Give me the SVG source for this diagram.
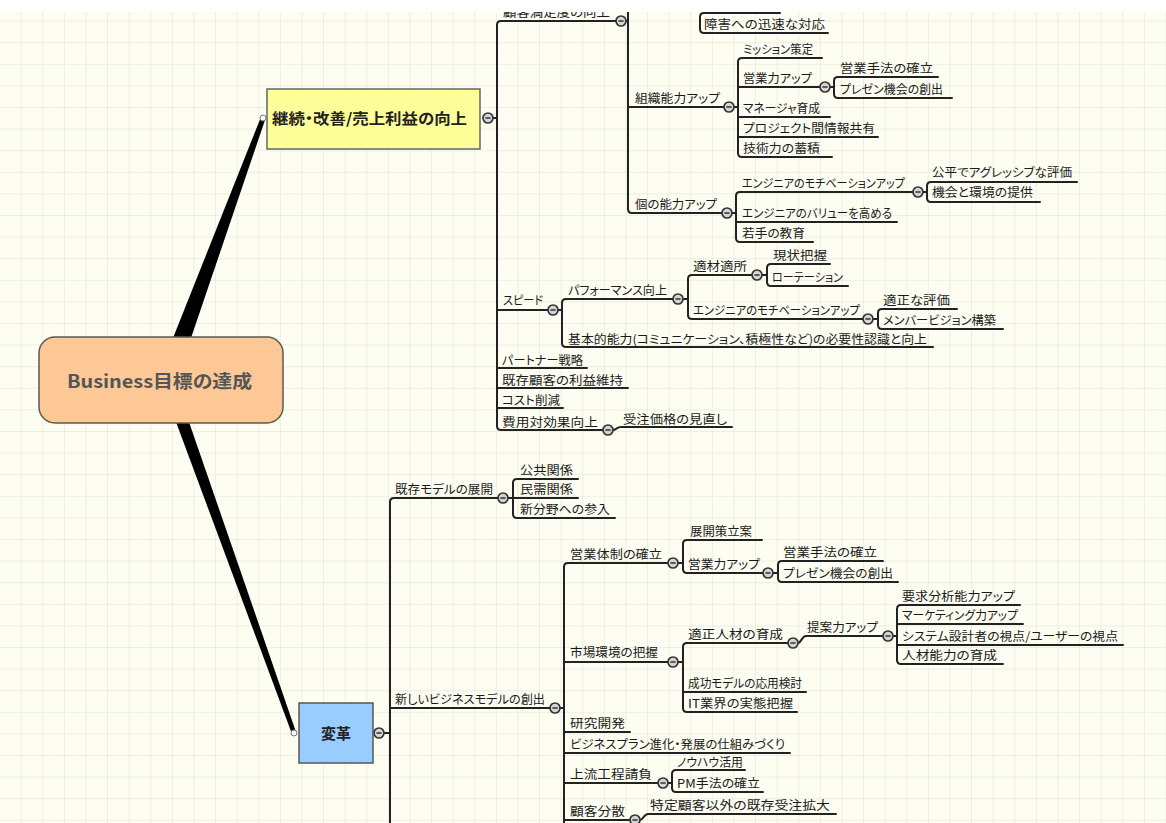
<svg xmlns="http://www.w3.org/2000/svg" width="1166" height="823" viewBox="0 0 1166 823">
  <defs>
    <pattern id="grid" x="0" y="0" width="21.6" height="21.6" patternUnits="userSpaceOnUse">
      <path d="M21.6 0 V21.6 M0 21.6 H21.6" fill="none" stroke="#dae3d4" stroke-width="1"/>
    </pattern>
    <symbol id="col" viewBox="-6 -6 12 12" overflow="visible">
      <circle r="5" fill="#d4d4d4" stroke="#333" stroke-width="1.7"/>
      <path d="M-2.6 0 H2.6" stroke="#333" stroke-width="1.5"/>
    </symbol>
  </defs>
  <style>
    .t{font-family:"Noto Sans CJK JP","Noto Sans",sans-serif;font-size:12px;fill:#1a1a1a;font-feature-settings:"palt"}
    .u{fill:none;stroke:#222;stroke-width:2;stroke-linecap:round;stroke-linejoin:round}
    .pin{fill:#fff;stroke:#777;stroke-width:1}
    .nt{font-family:"Noto Sans CJK JP","Noto Sans",sans-serif;font-weight:bold;fill:#222;font-feature-settings:"palt"}
  </style>

  <rect width="1166" height="823" fill="#fdfdf1"/>
  <rect width="1166" height="823" fill="url(#grid)"/>

  <!-- tapered main branches from the root -->
  <g id="main-branches" fill="#000">
    <path d="M173 338 L261 117 L265 120 L191 338 Z"/>
    <path d="M176 422 L292 734 L296 732 L189 422 Z"/>
  </g>

  <!-- connectors -->
  <g id="connectors" class="u">
    <!-- 継続・改善 trunk -->
    <path d="M493 118 H497 M497 25 V426"/>
    <path d="M497 25 Q497 21 501 21 H616"/>
    <path d="M497 310 H548"/>
    <path d="M497 368 H587"/>
    <path d="M497 388 H628"/>
    <path d="M497 408 H563"/>
    <path d="M497 426 Q497 430 501 430 H603"/>
    <!-- 顧客満足度の向上 -->
    <path d="M626 21 H628 M628 12 V209"/>
    <path d="M628 107 H724"/>
    <path d="M628 209 Q628 213 632 213 H722"/>
    <path d="M780 13 H704 Q700 13 700 17 V29 Q700 33 704 33 H828"/>
    <!-- 組織能力アップ -->
    <path d="M734 107 H738 M738 62 V153"/>
    <path d="M738 62 Q738 58 742 58 H822"/>
    <path d="M738 87 H820"/>
    <path d="M738 117 H830"/>
    <path d="M738 137 H878"/>
    <path d="M738 153 Q738 157 742 157 H832"/>
    <path d="M830 87 H834 M834 81 V94"/>
    <path d="M834 81 Q834 77 838 77 H938"/>
    <path d="M834 94 Q834 98 838 98 H952"/>
    <!-- 個の能力アップ -->
    <path d="M732 213 H736 M736 196 V238"/>
    <path d="M736 196 Q736 192 740 192 H913"/>
    <path d="M736 222 H897"/>
    <path d="M736 238 Q736 242 740 242 H813"/>
    <path d="M923 192 H927 M927 186 V198"/>
    <path d="M927 186 Q927 182 931 182 H1077"/>
    <path d="M927 198 Q927 202 931 202 H1040"/>
    <!-- スピード -->
    <path d="M558 310 H562 M562 303 V343"/>
    <path d="M562 303 Q562 299 566 299 H673"/>
    <path d="M562 343 Q562 347 566 347 H933"/>
    <path d="M683 299 H688 M688 279 V315"/>
    <path d="M688 279 Q688 275 692 275 H752"/>
    <path d="M688 315 Q688 319 692 319 H863"/>
    <path d="M762 275 H767 M767 268 V282"/>
    <path d="M767 268 Q767 264 771 264 H830"/>
    <path d="M767 282 Q767 286 771 286 H848"/>
    <path d="M873 319 H878 M878 313 V325"/>
    <path d="M878 313 Q878 309 882 309 H957"/>
    <path d="M878 325 Q878 329 882 329 H1003"/>
    <!-- 費用対効果向上 -->
    <path d="M613 430 C616 430 617 427 621 427 H732"/>

    <!-- 変革 trunk -->
    <path d="M384 733 H390 M390 502 V823"/>
    <path d="M390 502 Q390 498 394 498 H498"/>
    <path d="M390 708 H550"/>
    <!-- 既存モデルの展開 -->
    <path d="M508 498 H513 M513 483 V514"/>
    <path d="M513 483 Q513 479 517 479 H578"/>
    <path d="M513 498 H578"/>
    <path d="M513 514 Q513 518 517 518 H615"/>
    <!-- 新しいビジネスモデルの創出 -->
    <path d="M560 708 H564 M564 567 V823"/>
    <path d="M564 567 Q564 563 568 563 H668"/>
    <path d="M564 662 H668"/>
    <path d="M564 732 H630"/>
    <path d="M564 753 H790"/>
    <path d="M564 783 H658"/>
    <path d="M564 820 H630"/>
    <!-- 営業体制の確立 -->
    <path d="M678 563 H683 M683 544 V569"/>
    <path d="M683 544 Q683 540 687 540 H762"/>
    <path d="M683 569 Q683 573 687 573 H763"/>
    <path d="M773 573 H778 M778 565 V578"/>
    <path d="M778 565 Q778 561 782 561 H883"/>
    <path d="M778 578 Q778 582 782 582 H898"/>
    <!-- 市場環境の把握 -->
    <path d="M678 662 H683 M683 647 V708"/>
    <path d="M683 647 Q683 643 687 643 H788"/>
    <path d="M683 692 H806"/>
    <path d="M683 708 Q683 712 687 712 H797"/>
    <path d="M798 643 C801 643 802 636 806 636 H883"/>
    <path d="M893 636 H897 M897 609 V660"/>
    <path d="M897 609 Q897 605 901 605 H1020"/>
    <path d="M897 624 H1023"/>
    <path d="M897 645 H1123"/>
    <path d="M897 660 Q897 664 901 664 H1003"/>
    <!-- 上流工程請負 -->
    <path d="M668 783 H672 M672 774 V788"/>
    <path d="M672 774 Q672 770 676 770 H745"/>
    <path d="M672 788 Q672 792 676 792 H763"/>
    <!-- 顧客分散 -->
    <path d="M640 820 C643 820 644 814 648 814 H836"/>
  </g>

  <!-- collapse markers -->
  <g id="collapse-markers">
    <use href="#col" x="482" y="112" width="12" height="12"/>
    <use href="#col" x="615" y="15" width="12" height="12"/>
    <use href="#col" x="723" y="101" width="12" height="12"/>
    <use href="#col" x="819" y="81" width="12" height="12"/>
    <use href="#col" x="721" y="207" width="12" height="12"/>
    <use href="#col" x="912" y="186" width="12" height="12"/>
    <use href="#col" x="547" y="304" width="12" height="12"/>
    <use href="#col" x="672" y="293" width="12" height="12"/>
    <use href="#col" x="751" y="269" width="12" height="12"/>
    <use href="#col" x="862" y="313" width="12" height="12"/>
    <use href="#col" x="602" y="424" width="12" height="12"/>
    <use href="#col" x="373" y="727" width="12" height="12"/>
    <use href="#col" x="497" y="492" width="12" height="12"/>
    <use href="#col" x="549" y="702" width="12" height="12"/>
    <use href="#col" x="667" y="557" width="12" height="12"/>
    <use href="#col" x="762" y="567" width="12" height="12"/>
    <use href="#col" x="667" y="656" width="12" height="12"/>
    <use href="#col" x="787" y="637" width="12" height="12"/>
    <use href="#col" x="882" y="630" width="12" height="12"/>
    <use href="#col" x="657" y="777" width="12" height="12"/>
    <use href="#col" x="629" y="814" width="12" height="12"/>
  </g>

  <!-- root node -->
  <g id="node-root">
    <rect x="39" y="337" width="244" height="86" rx="16" fill="#fdc896" stroke="#5a5a50" stroke-width="1.5"/>
    <text class="nt" x="67" y="388" font-size="18" textLength="185" lengthAdjust="spacingAndGlyphs" style="fill:#555">Business目標の達成</text>
  </g>

  <!-- first-level nodes -->
  <g id="node-keizoku">
    <rect x="267" y="89" width="213" height="60" fill="#ffff99" stroke="#666" stroke-width="1.5"/>
    <text class="nt" x="272" y="124" font-size="15" textLength="195" lengthAdjust="spacingAndGlyphs">継続・改善/売上利益の向上</text>
    <circle class="pin" cx="263" cy="118" r="3"/>
  </g>
  <g id="node-henkaku">
    <rect x="299" y="703" width="74" height="60" fill="#99ccff" stroke="#555" stroke-width="1.5"/>
    <text class="nt" x="336" y="739" font-size="15" text-anchor="middle">変革</text>
    <circle class="pin" cx="294" cy="733" r="3"/>
  </g>

  <!-- topic labels -->
  <g id="labels" class="t">
    <text x="503" y="17" textLength="107" lengthAdjust="spacingAndGlyphs">顧客満足度の向上</text>
    <text x="704" y="29" textLength="121" lengthAdjust="spacingAndGlyphs">障害への迅速な対応</text>
    <text x="635" y="103" textLength="85" lengthAdjust="spacingAndGlyphs">組織能力アップ</text>
    <text x="743" y="54" textLength="70" lengthAdjust="spacingAndGlyphs">ミッション策定</text>
    <text x="743" y="83" textLength="69" lengthAdjust="spacingAndGlyphs">営業力アップ</text>
    <text x="840" y="73" textLength="93" lengthAdjust="spacingAndGlyphs">営業手法の確立</text>
    <text x="840" y="94" textLength="103" lengthAdjust="spacingAndGlyphs">プレゼン機会の創出</text>
    <text x="743" y="113" textLength="77" lengthAdjust="spacingAndGlyphs">マネージャ育成</text>
    <text x="743" y="133" textLength="132" lengthAdjust="spacingAndGlyphs">プロジェクト間情報共有</text>
    <text x="743" y="153" textLength="77" lengthAdjust="spacingAndGlyphs">技術力の蓄積</text>
    <text x="635" y="209" textLength="82" lengthAdjust="spacingAndGlyphs">個の能力アップ</text>
    <text x="742" y="188" textLength="163" lengthAdjust="spacingAndGlyphs">エンジニアのモチベーションアップ</text>
    <text x="932" y="177" textLength="140" lengthAdjust="spacingAndGlyphs">公平でアグレッシブな評価</text>
    <text x="932" y="197" textLength="101" lengthAdjust="spacingAndGlyphs">機会と環境の提供</text>
    <text x="742" y="218" textLength="150" lengthAdjust="spacingAndGlyphs">エンジニアのバリューを高める</text>
    <text x="742" y="238" textLength="63" lengthAdjust="spacingAndGlyphs">若手の教育</text>
    <text x="503" y="305" textLength="40" lengthAdjust="spacingAndGlyphs">スピード</text>
    <text x="568" y="295" textLength="99" lengthAdjust="spacingAndGlyphs">パフォーマンス向上</text>
    <text x="693" y="271" textLength="54" lengthAdjust="spacingAndGlyphs">適材適所</text>
    <text x="773" y="260" textLength="54" lengthAdjust="spacingAndGlyphs">現状把握</text>
    <text x="772" y="282" textLength="71" lengthAdjust="spacingAndGlyphs">ローテーション</text>
    <text x="693" y="315" textLength="167" lengthAdjust="spacingAndGlyphs">エンジニアのモチベーションアップ</text>
    <text x="883" y="305" textLength="67" lengthAdjust="spacingAndGlyphs">適正な評価</text>
    <text x="883" y="325" textLength="113" lengthAdjust="spacingAndGlyphs">メンバービジョン構築</text>
    <text x="568" y="344" textLength="359" lengthAdjust="spacingAndGlyphs">基本的能力(コミュニケーション、積極性など)の必要性認識と向上</text>
    <text x="502" y="365" textLength="81" lengthAdjust="spacingAndGlyphs">パートナー戦略</text>
    <text x="502" y="385" textLength="121" lengthAdjust="spacingAndGlyphs">既存顧客の利益維持</text>
    <text x="502" y="405" textLength="58" lengthAdjust="spacingAndGlyphs">コスト削減</text>
    <text x="502" y="427" textLength="96" lengthAdjust="spacingAndGlyphs">費用対効果向上</text>
    <text x="623" y="424" textLength="104" lengthAdjust="spacingAndGlyphs">受注価格の見直し</text>

    <text x="395" y="494" textLength="98" lengthAdjust="spacingAndGlyphs">既存モデルの展開</text>
    <text x="520" y="475" textLength="53" lengthAdjust="spacingAndGlyphs">公共関係</text>
    <text x="520" y="494" textLength="53" lengthAdjust="spacingAndGlyphs">民需関係</text>
    <text x="520" y="514" textLength="90" lengthAdjust="spacingAndGlyphs">新分野への参入</text>
    <text x="395" y="704" textLength="150" lengthAdjust="spacingAndGlyphs">新しいビジネスモデルの創出</text>
    <text x="570" y="559" textLength="92" lengthAdjust="spacingAndGlyphs">営業体制の確立</text>
    <text x="690" y="536" textLength="62" lengthAdjust="spacingAndGlyphs">展開策立案</text>
    <text x="688" y="569" textLength="72" lengthAdjust="spacingAndGlyphs">営業力アップ</text>
    <text x="783" y="557" textLength="94" lengthAdjust="spacingAndGlyphs">営業手法の確立</text>
    <text x="783" y="578" textLength="110" lengthAdjust="spacingAndGlyphs">プレゼン機会の創出</text>
    <text x="570" y="657" textLength="88" lengthAdjust="spacingAndGlyphs">市場環境の把握</text>
    <text x="688" y="639" textLength="95" lengthAdjust="spacingAndGlyphs">適正人材の育成</text>
    <text x="807" y="632" textLength="71" lengthAdjust="spacingAndGlyphs">提案力アップ</text>
    <text x="902" y="601" textLength="113" lengthAdjust="spacingAndGlyphs">要求分析能力アップ</text>
    <text x="902" y="620" textLength="116" lengthAdjust="spacingAndGlyphs">マーケティング力アップ</text>
    <text x="902" y="641" textLength="216" lengthAdjust="spacingAndGlyphs">システム設計者の視点/ユーザーの視点</text>
    <text x="902" y="660" textLength="95" lengthAdjust="spacingAndGlyphs">人材能力の育成</text>
    <text x="688" y="688" textLength="114" lengthAdjust="spacingAndGlyphs">成功モデルの応用検討</text>
    <text x="688" y="708" textLength="105" lengthAdjust="spacingAndGlyphs">IT業界の実態把握</text>
    <text x="570" y="728" textLength="55" lengthAdjust="spacingAndGlyphs">研究開発</text>
    <text x="570" y="749" textLength="215" lengthAdjust="spacingAndGlyphs">ビジネスプラン進化・発展の仕組みづくり</text>
    <text x="570" y="779" textLength="82" lengthAdjust="spacingAndGlyphs">上流工程請負</text>
    <text x="677" y="767" textLength="66" lengthAdjust="spacingAndGlyphs">ノウハウ活用</text>
    <text x="677" y="788" textLength="83" lengthAdjust="spacingAndGlyphs">PM手法の確立</text>
    <text x="570" y="816" textLength="55" lengthAdjust="spacingAndGlyphs">顧客分散</text>
    <text x="650" y="810" textLength="180" lengthAdjust="spacingAndGlyphs">特定顧客以外の既存受注拡大</text>
  </g>

  <!-- blank strip along the upper edge -->
  <rect x="0" y="0" width="1166" height="12" fill="#ffffff"/>
</svg>
